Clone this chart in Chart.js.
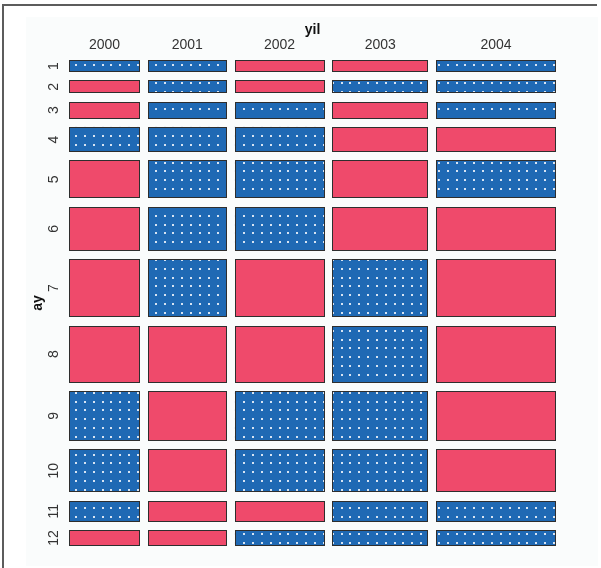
<!DOCTYPE html>
<html>
<head>
<meta charset="utf-8">
<script src="https://cdn.jsdelivr.net/npm/chart.js@4"></script>
<style>
  html, body { margin: 0; padding: 0; background: #fff; }
  #wrap { width: 601px; height: 568px; position: relative; }
</style>
</head>
<body>
<div id="wrap"><canvas id="mosaic" width="601" height="568"></canvas></div>
<script>
(() => {
  'use strict';

  // Data: column = yil (year), row = ay (month)
  const years = ['2000', '2001', '2002', '2003', '2004'];
  const months = ['1', '2', '3', '4', '5', '6', '7', '8', '9', '10', '11', '12'];
  // relative sizes (tile widths / heights)
  const yearTotals = [71, 79, 90, 96, 120];
  const monthTotals = [12, 13, 17, 25, 38, 44, 58, 57, 50, 43, 21, 16];
  // residual sign per cell: 1 = above expected (blue, dotted), -1 = below (red)
  const residualSign = [
    [ 1,  1, -1, -1,  1],
    [-1,  1, -1,  1,  1],
    [-1,  1,  1, -1,  1],
    [ 1,  1,  1, -1, -1],
    [-1,  1,  1, -1,  1],
    [-1,  1,  1, -1, -1],
    [-1,  1, -1,  1, -1],
    [-1, -1, -1,  1, -1],
    [ 1, -1,  1,  1, -1],
    [ 1, -1,  1,  1, -1],
    [ 1, -1, -1,  1,  1],
    [-1, -1,  1,  1,  1],
  ];

  const GAP_X = 7.75;
  const GAP_Y = 8.36;
  const BLUE = '#1f69b4';
  const RED = '#ef4a6b';
  const EDGE = '#2e2e2e';

  // cumulative tile bounds
  function bounds(sizes, gap) {
    let pos = 0;
    return sizes.map(s => {
      const b = { start: pos, end: pos + s, mid: pos + s / 2 };
      pos += s + gap;
      return b;
    });
  }
  const colB = bounds(yearTotals, GAP_X);
  const rowB = bounds(monthTotals, GAP_Y);
  const xMax = colB[colB.length - 1].end;
  const yMax = rowB[rowB.length - 1].end;

  const frame = {
    id: 'frame',
    beforeDraw(chart) {
      const c = chart.ctx;
      c.save();
      c.fillStyle = '#fafcfc';
      c.fillRect(26, 17, 572, 549);
      c.strokeStyle = '#5c5c5c';
      c.lineWidth = 2;
      c.beginPath();
      c.moveTo(3, 568);
      c.lineTo(3, 5);
      c.lineTo(597, 5);
      c.stroke();
      c.restore();
    }
  };

  const tiles = {
    id: 'tiles',
    beforeDatasetsDraw(chart) {
      const { ctx: c, scales: { x, y } } = chart;
      c.save();
      rowB.forEach((r, ri) => {
        colB.forEach((col, ci) => {
          const x0 = Math.round(x.getPixelForValue(col.start));
          const x1 = Math.round(x.getPixelForValue(col.end));
          const y0 = Math.round(y.getPixelForValue(r.start));
          const y1 = Math.round(y.getPixelForValue(r.end));
          const pos = residualSign[ri][ci] > 0;
          c.fillStyle = pos ? BLUE : RED;
          c.fillRect(x0, y0, x1 - x0, y1 - y0);
          if (pos) {
            c.fillStyle = 'rgba(235,242,250,0.9)';
            const step = 8.85;
            const fx = x0 + ((76 - x0) % step + step) % step;
            const fy = y0 + ((136 - y0) % step + step) % step;
            for (let py = fy; py < y1 - 1; py += step) {
              for (let px = fx; px < x1 - 1; px += step) {
                c.fillRect(Math.round(px) - 1, Math.round(py) - 1, 2, 2);
              }
            }
          }
          c.strokeStyle = EDGE;
          c.lineWidth = 1;
          c.strokeRect(x0 + 0.5, y0 + 0.5, x1 - x0 - 1, y1 - y0 - 1);
        });
      });
      c.restore();
    }
  };

  const font = { family: '"Liberation Sans", Arial, sans-serif', size: 14 };

  new Chart(document.getElementById('mosaic'), {
    type: 'scatter',
    data: { datasets: [{ data: [] }] },
    options: {
      responsive: false,
      animation: false,
      events: [],
      layout: { padding: { left: 26, top: 18, right: 45, bottom: 22 } },
      plugins: { legend: { display: false }, tooltip: { enabled: false } },
      scales: {
        x: {
          type: 'linear',
          position: 'top',
          min: 0,
          max: xMax,
          grid: { display: false },
          border: { display: false },
          afterBuildTicks: s => { s.ticks = colB.map(b => ({ value: b.mid })); },
          afterFit: s => { s.height = 42; },
          ticks: {
            autoSkip: false,
            padding: -2,
            color: '#333',
            font,
            maxRotation: 0,
            callback: (v, i) => years[i]
          },
          title: { display: true, text: 'yil', color: '#111', font: { ...font, weight: 'bold' }, padding: { top: 4, bottom: 0 } }
        },
        y: {
          type: 'linear',
          position: 'left',
          min: 0,
          max: yMax,
          reverse: true,
          grid: { display: false },
          border: { display: false },
          afterBuildTicks: s => { s.ticks = rowB.map(b => ({ value: b.mid })); },
          afterFit: s => { s.width = 43; },
          ticks: {
            autoSkip: false,
            padding: -1,
            color: '#333',
            font,
            minRotation: 90,
            maxRotation: 90,
            crossAlign: 'center',
            callback: (v, i) => months[i]
          },
          title: { display: true, text: 'ay', color: '#111', font: { ...font, weight: 'bold' }, padding: { top: 4, bottom: 0 } }
        }
      }
    },
    plugins: [frame, tiles]
  });
})();
</script>
</body>
</html>
